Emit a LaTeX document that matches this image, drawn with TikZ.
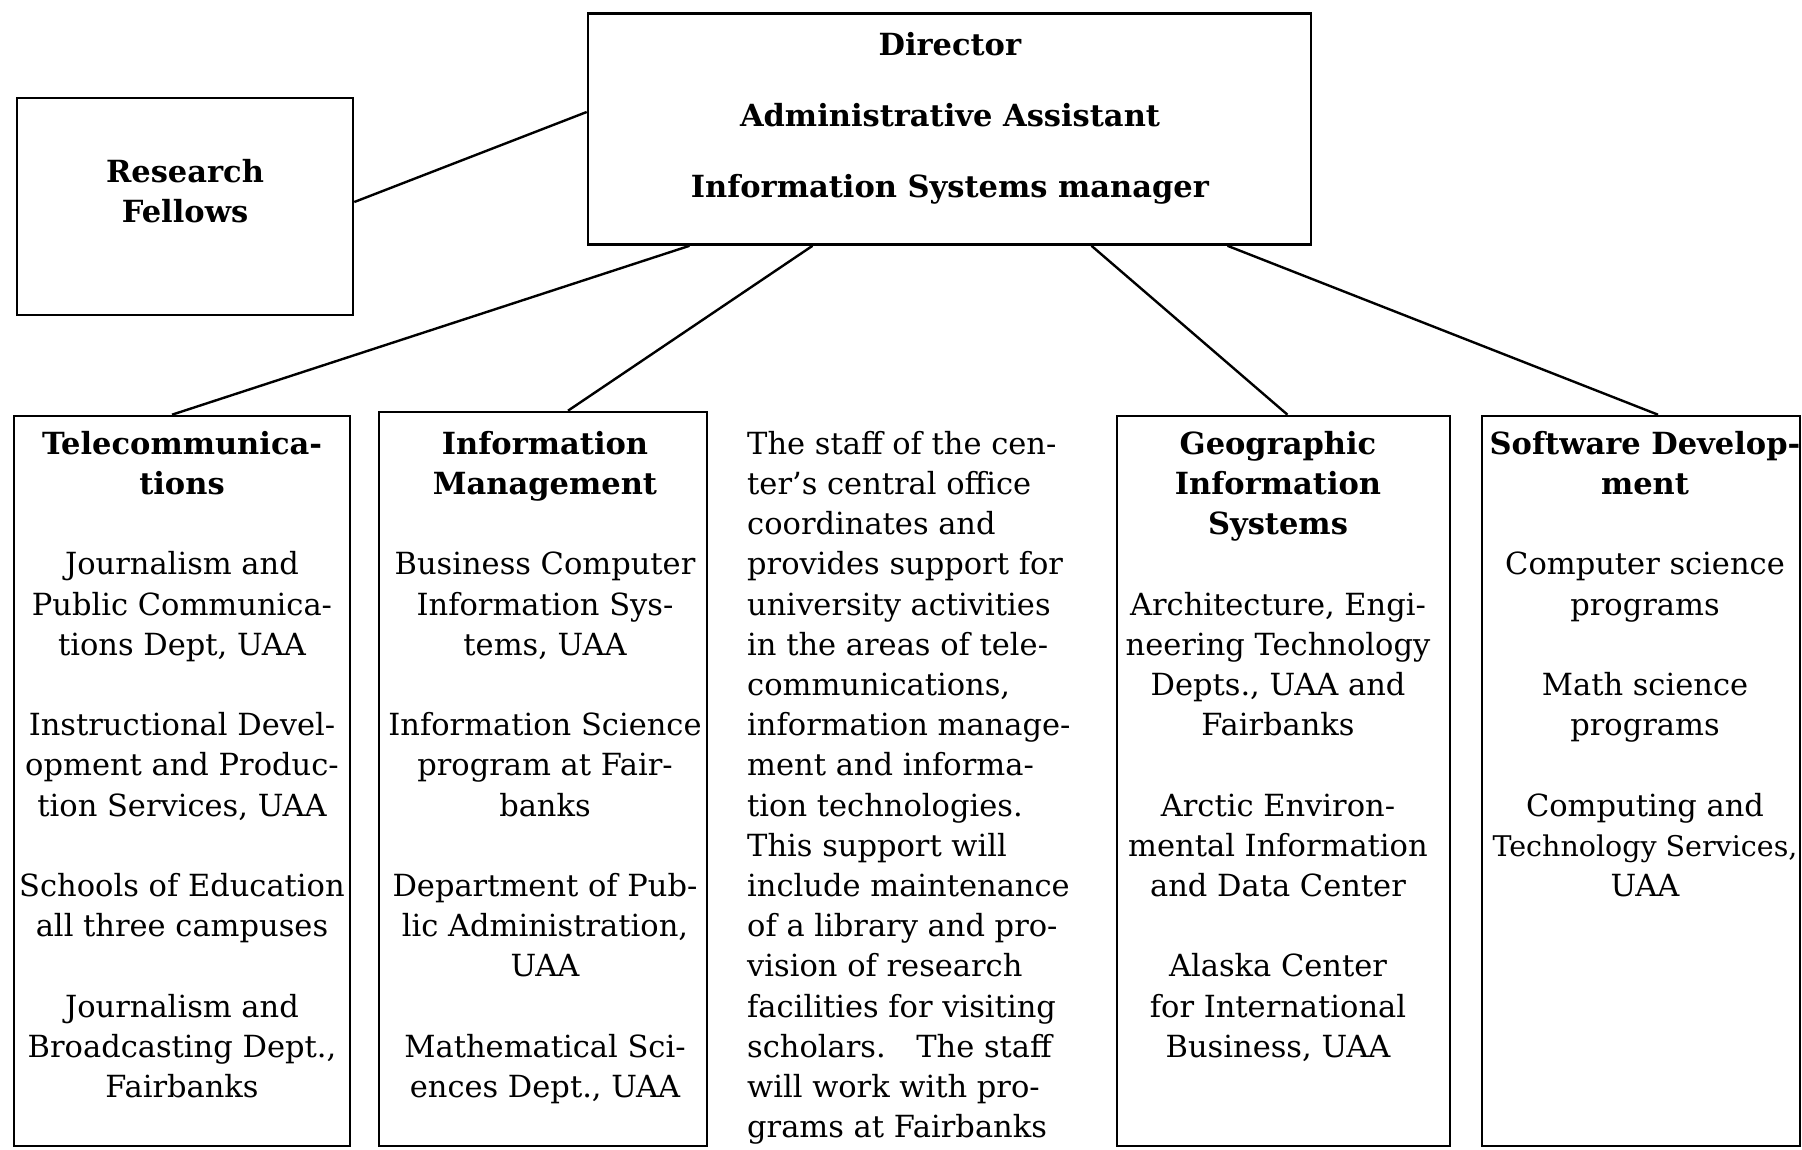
\documentclass[tikz,border=0pt]{standalone}
\usepackage{fontspec}
\setmainfont{DejaVu Serif}
\usepackage{tikz}

\begin{document}
\begin{tikzpicture}[x=1pt,y=-1pt,
        unitbox/.style={draw, line width=2.6pt, inner sep=0pt},
        unittext/.style={align=center, inner sep=0pt, anchor=north,
            font=\fontsize{30.5}{40.2}\selectfont},
        link/.style={line width=2.4pt}]
        \useasboundingbox (0,0) rectangle (1802,1149);
        % --- Central office ---
        \node[unitbox, minimum width=723pt, minimum height=231pt] (director) at (949.5,129) {};
        \node[unittext] (directortext) at (950,32)
            {\textbf{Director}\\[30.8pt]
             \textbf{Administrative Assistant}\\[30.8pt]
             \textbf{Information Systems manager}};
        \node[unitbox, minimum width=336pt, minimum height=217pt] (research) at (185,206.5) {};
        \node[unittext] (researchtext) at (185,159)
            {\textbf{Research}\\\textbf{Fellows}};
        % --- Units ---
        \node[unitbox, minimum width=336pt, minimum height=730pt] (tele) at (182,781) {};
        \node[unittext] (teletext) at (182,431)
            {\textbf{Telecommunica-}\\\textbf{tions}\\[40.2pt]
             Journalism and\\Public Communica-\\tions Dept, UAA\\[40.2pt]
             Instructional Devel-\\opment and Produc-\\tion Services, UAA\\[40.2pt]
             Schools of Education\\all three campuses\\[40.2pt]
             Journalism and\\Broadcasting Dept.,\\Fairbanks};
        \node[unitbox, minimum width=328pt, minimum height=734pt] (info) at (543,779) {};
        \node[unittext] (infotext) at (545,431)
            {\textbf{Information}\\\textbf{Management}\\[40.2pt]
             Business Computer\\Information Sys-\\tems, UAA\\[40.2pt]
             Information Science\\program at Fair-\\banks\\[40.2pt]
             Department of Pub-\\lic Administration,\\UAA\\[40.2pt]
             Mathematical Sci-\\ences Dept., UAA};
        \node[unittext, anchor=north west, align=left] (staffnote) at (747,431)
            {The staff of the cen-\\ter's central office\\coordinates and\\
             provides support for\\university activities\\in the areas of tele-\\
             communications,\\information manage-\\ment and informa-\\
             tion technologies.\\This support will\\include maintenance\\
             of a library and pro-\\vision of research\\facilities for visiting\\
             scholars.\quad The staff\\will work with pro-\\grams at Fairbanks};
        \node[unitbox, minimum width=333pt, minimum height=730pt] (gis) at (1283.5,781) {};
        \node[unittext] (gistext) at (1278,431)
            {\textbf{Geographic}\\\textbf{Information}\\\textbf{Systems}\\[40.2pt]
             Architecture, Engi-\\neering Technology\\Depts., UAA and\\Fairbanks\\[40.2pt]
             Arctic Environ-\\mental Information\\and Data Center\\[40.2pt]
             Alaska Center\\for International\\Business, UAA};
        \node[unitbox, minimum width=318pt, minimum height=730pt] (software) at (1641,781) {};
        \node[unittext] (softwaretext) at (1645,431)
            {\textbf{Software Develop-}\\\textbf{ment}\\[40.2pt]
             Computer science\\programs\\[40.2pt]
             Math science\\programs\\[40.2pt]
             Computing and\\{\fontsize{28.5}{40.2}\selectfont Technology Services,}\\UAA};
        % --- Links ---
        \draw[link] ([yshift=4.5pt]research.east) -- ([yshift=17pt]director.west);
        \draw[link] ([xshift=-260pt]director.south) -- ([xshift=-10pt]tele.north);
        \draw[link] ([xshift=-137pt]director.south) -- ([xshift=25pt]info.north);
        \draw[link] ([xshift=142pt]director.south) -- ([xshift=4pt]gis.north);
        \draw[link] ([xshift=278pt]director.south) -- ([xshift=17pt]software.north);
    \end{tikzpicture}
\end{document}
